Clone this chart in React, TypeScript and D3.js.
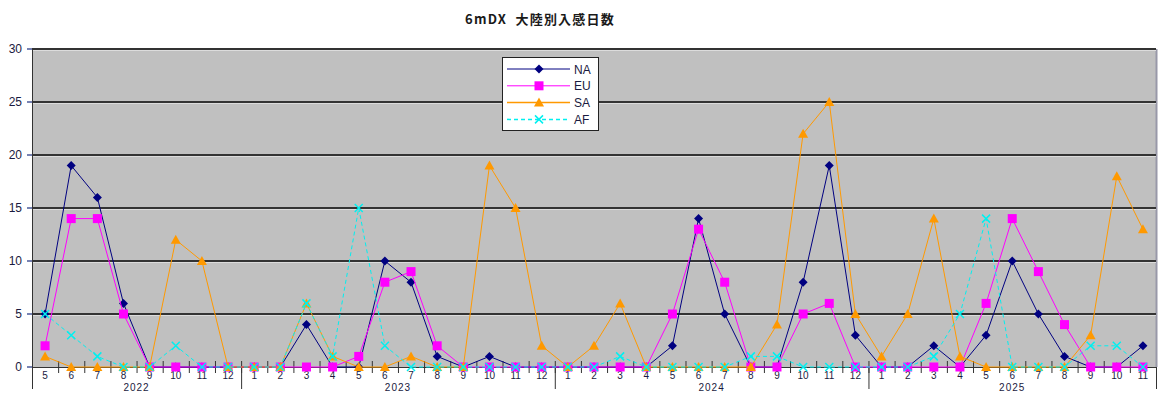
import React from 'react';
import * as d3 from 'd3';

const years = ['2022', '2023', '2024', '2025'];
const monthsPerYear = [
  [5, 6, 7, 8, 9, 10, 11, 12],
  [1, 2, 3, 4, 5, 6, 7, 8, 9, 10, 11, 12],
  [1, 2, 3, 4, 5, 6, 7, 8, 9, 10, 11, 12],
  [1, 2, 3, 4, 5, 6, 7, 8, 9, 10, 11],
];

const naValues = [5, 19, 16, 6, 0, 0, 0, 0, 0, 0, 4, 0, 0, 10, 8, 1, 0, 1, 0, 0, 0, 0, 0, 0, 2, 14, 5, 0, 0, 8, 19, 3, 0, 0, 2, 0, 3, 10, 5, 1, 0, 0, 2];
const euValues = [2, 14, 14, 5, 0, 0, 0, 0, 0, 0, 0, 0, 1, 8, 9, 2, 0, 0, 0, 0, 0, 0, 0, 0, 5, 13, 8, 0, 0, 5, 6, 0, 0, 0, 0, 0, 6, 14, 9, 4, 0, 0, 0];
const saValues = [1, 0, 0, 0, 0, 12, 10, 0, 0, 0, 6, 1, 0, 0, 1, 0, 0, 19, 15, 2, 0, 2, 6, 0, 0, 0, 0, 0, 4, 22, 25, 5, 1, 5, 14, 1, 0, 0, 0, 0, 3, 18, 13];
const afValues = [5, 3, 1, 0, 0, 2, 0, 0, 0, 0, 6, 1, 15, 2, 0, 0, 0, 0, 0, 0, 0, 0, 1, 0, 0, 0, 0, 1, 1, 0, 0, 0, 0, 0, 1, 5, 14, 0, 0, 0, 2, 2, 0];

const yTicks = [0, 5, 10, 15, 20, 25, 30];

const series = [
  { name: 'NA', values: naValues, color: '#000080', marker: 'diamond', dash: '' },
  { name: 'EU', values: euValues, color: '#FF00FF', marker: 'square', dash: '' },
  { name: 'SA', values: saValues, color: '#FF9900', marker: 'triangle', dash: '' },
  { name: 'AF', values: afValues, color: '#00F0F0', marker: 'cross', dash: '4,3' },
];

const W = 1176;
const H = 402;
const left = 32;
const right = 1156;
const top = 49;
const bottom = 367;

const categories: { year: string; month: number; key: string }[] = [];
monthsPerYear.forEach((ms, yi) => ms.forEach((m) => categories.push({ year: years[yi], month: m, key: `${years[yi]}-${m}` })));

const x = d3.scaleBand<string>().domain(categories.map((c) => c.key)).range([left, right]).padding(0);
const y = d3.scaleLinear().domain([0, 30]).range([bottom, top]);
const cx = (i: number) => (x(categories[i].key) || 0) + x.bandwidth() / 2;

function Marker({ type, px, py, color }: { type: string; px: number; py: number; color: string }) {
  if (type === 'diamond') {
    const s = 4.5;
    return <path d={`M${px},${py - s}L${px + s},${py}L${px},${py + s}L${px - s},${py}Z`} fill={color} />;
  }
  if (type === 'square') {
    const s = 4.5;
    return <rect x={px - s} y={py - s} width={s * 2} height={s * 2} fill={color} />;
  }
  if (type === 'triangle') {
    const s = 5;
    return <path d={`M${px},${py - s}L${px + s},${py + s - 1}L${px - s},${py + s - 1}Z`} fill={color} />;
  }
  const s = 4;
  return (
    <path d={`M${px - s},${py - s}L${px + s},${py + s}M${px + s},${py - s}L${px - s},${py + s}`} stroke={color} strokeWidth={1.5} fill="none" />
  );
}

export default function App() {
  const line = d3.line<number>().x((_, i) => cx(i)).y((d) => y(d));

  // year boundaries
  const bounds: number[] = [left];
  let acc = 0;
  monthsPerYear.forEach((ms) => {
    acc += ms.length;
    bounds.push(acc === categories.length ? right : x(categories[acc].key) || 0);
  });

  const font = '"Liberation Sans", Arial, sans-serif';
  const lx = 502;
  const ly = 57;

  return (
    <svg width={W} height={H} style={{ position: 'absolute', left: 0, top: 0, background: '#fff' }}>
      <text x={540} y={24} textAnchor="middle" fontFamily='"Noto Sans CJK JP", sans-serif' fontWeight="bold" fontSize={13} letterSpacing={1.2} fill="#1a1a1a" style={{ whiteSpace: 'pre' }}>
        6mDX  大陸別入感日数
      </text>

      <rect x={left} y={top} width={right - left} height={bottom - top} fill="#C0C0C0" />
      <line x1={right + 0.5} x2={right + 0.5} y1={top} y2={bottom} stroke="#9898a8" strokeWidth={2} />

      {yTicks.filter((t) => t > 0).map((t) => (
        <g key={t}>
          <line x1={left} x2={right} y1={y(t)} y2={y(t)} stroke="#333" strokeWidth={2} />
          <line x1={left} x2={right} y1={y(t) + 1.5} y2={y(t) + 1.5} stroke="#dcdcdc" strokeWidth={1} />
        </g>
      ))}

      {yTicks.map((t) => (
        <g key={'yt' + t}>
          <line x1={left - 5} x2={left} y1={y(t)} y2={y(t)} stroke="#4a5a9a" strokeWidth={1.5} />
          <text x={22} y={y(t) + 4} textAnchor="end" fontFamily={font} fontSize={12} fill="#1a1a40">
            {t}
          </text>
        </g>
      ))}

      <line x1={left + 0.5} x2={left + 0.5} y1={top} y2={bottom} stroke="#333" strokeWidth={1} />
      <line x1={left} x2={right} y1={bottom + 0.5} y2={bottom + 0.5} stroke="#333" strokeWidth={1} />

      {categories.map((c, i) =>
        i > 0 ? (
          <line key={'ct' + i} x1={(x(c.key) || 0) + 0.5} x2={(x(c.key) || 0) + 0.5} y1={bottom - 6} y2={bottom + 6} stroke="#333" strokeWidth={1} />
        ) : null
      )}
      {categories.map((c, i) => (
        <text key={'cl' + i} x={cx(i)} y={379} textAnchor="middle" fontFamily={font} fontSize={10} fill="#1a1a40">
          {c.month}
        </text>
      ))}
      {bounds.map((b, i) => (
        <line key={'yb' + i} x1={b + 0.5} x2={b + 0.5} y1={bottom} y2={389} stroke="#333" strokeWidth={1} />
      ))}
      {years.map((yr, i) => (
        <text key={yr} x={(bounds[i] + bounds[i + 1]) / 2} y={391} textAnchor="middle" fontFamily={font} fontSize={10} letterSpacing={1} fill="#1a1a40">
          {yr}
        </text>
      ))}

      {series.map((s) => (
        <g key={s.name}>
          <path d={line(s.values) || ''} fill="none" stroke={s.color} strokeWidth={1} strokeDasharray={s.dash} />
          {s.values.map((v, i) => (
            <Marker key={i} type={s.marker} px={cx(i)} py={y(v)} color={s.color} />
          ))}
        </g>
      ))}

      <rect x={lx + 0.5} y={ly + 0.5} width={96} height={73} fill="#fff" stroke="#222" strokeWidth={1} />
      {series.map((s, i) => {
        const yy = ly + 12 + i * 16.8;
        return (
          <g key={'lg' + s.name}>
            <line x1={lx + 5} x2={lx + 68} y1={yy} y2={yy} stroke={s.color} strokeWidth={s.name === 'SA' || s.name === 'AF' ? 1.5 : 1} strokeDasharray={s.dash} />
            <Marker type={s.marker} px={lx + 37} py={yy} color={s.color} />
            <text x={lx + 72} y={yy + 4.5} fontFamily={font} fontSize={12} fill="#1a1a40">
              {s.name}
            </text>
          </g>
        );
      })}
    </svg>
  );
}
